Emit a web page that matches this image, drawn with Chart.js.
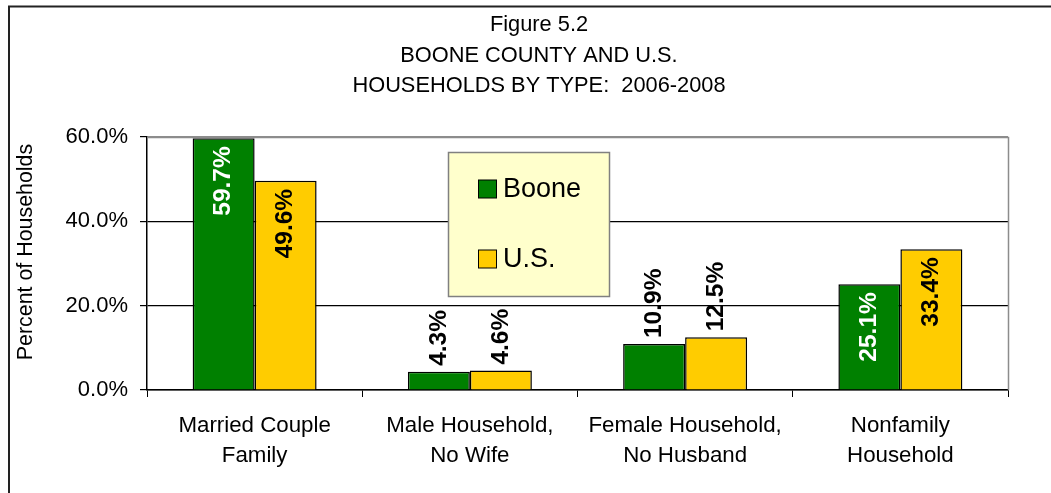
<!DOCTYPE html>
<html>
<head>
<meta charset="utf-8">
<script src="https://cdn.jsdelivr.net/npm/chart.js@4/dist/chart.umd.min.js"></script>
<style>
  html, body { margin: 0; padding: 0; background: #fff; }
  #wrap { width: 1051px; height: 493px; position: relative; }
</style>
</head>
<body>
<div id="wrap"><canvas id="c" width="1051" height="493"></canvas></div>
<script>
const categories = [
  ["Married Couple", "Family"],
  ["Male Household,", "No Wife"],
  ["Female Household,", "No Husband"],
  ["Nonfamily", "Household"]
];
const seriesNames = ["Boone", "U.S."];
const booneValues = [59.7, 4.3, 10.9, 25.1];
const usValues = [49.6, 4.6, 12.5, 33.4];
const yTickValues = [0, 20, 40, 60];
const titleLines = ["Figure 5.2", "BOONE COUNTY AND U.S.", "HOUSEHOLDS BY TYPE:  2006-2008"];
const yAxisTitle = "Percent of Households";

const FONT = "'Liberation Sans', Arial, sans-serif";
const GREEN = "#008000";
const YELLOW = "#FFCC00";

const framePlugin = {
  id: "frame",
  beforeDraw(chart) {
    const ctx = chart.ctx;
    ctx.save();
    ctx.fillStyle = "#fff";
    ctx.fillRect(0, 0, chart.width, chart.height);
    ctx.strokeStyle = "#222";
    ctx.lineWidth = 2;
    ctx.beginPath();
    ctx.moveTo(9, chart.height + 5);
    ctx.lineTo(9, 6.5);
    ctx.lineTo(chart.width + 5, 6.5);
    ctx.stroke();

    // title
    ctx.fillStyle = "#000";
    ctx.font = "21.8px " + FONT;
    ctx.textAlign = "center";
    ctx.textBaseline = "middle";
    const tcy = [25, 56, 86];
    titleLines.forEach((t, i) => ctx.fillText(t, 539, tcy[i]));

    // y axis title
    ctx.save();
    ctx.translate(26, 252);
    ctx.rotate(-Math.PI / 2);
    ctx.font = "21.4px " + FONT;
    ctx.fillText(yAxisTitle, 0, 0);
    ctx.restore();
    ctx.restore();
  },
  afterDatasetsDraw(chart) {
    const ctx = chart.ctx;
    const a = chart.chartArea;
    ctx.save();
    ctx.strokeStyle = "#8c8c8c";
    ctx.lineWidth = 1.5;
    ctx.beginPath();
    ctx.moveTo(a.left, a.top + 0.5);
    ctx.lineTo(a.right + 0.5, a.top + 0.5);
    ctx.lineTo(a.right + 0.5, a.bottom);
    ctx.stroke();

    chart.data.datasets.forEach((ds, di) => {
      const meta = chart.getDatasetMeta(di);
      meta.data.forEach((bar, i) => {
        const v = ds.data[i];
        const txt = v.toFixed(1) + "%";
        const inside = v >= 20;
        ctx.save();
        ctx.translate(bar.x, bar.y);
        ctx.rotate(-Math.PI / 2);
        ctx.font = "bold 24.5px " + FONT;
        ctx.textBaseline = "middle";
        if (inside) {
          ctx.textAlign = "right";
          ctx.fillStyle = di === 0 ? "#fff" : "#000";
          ctx.fillText(txt, -8, 0);
        } else {
          ctx.textAlign = "left";
          ctx.fillStyle = "#000";
          ctx.fillText(txt, 6, 0);
        }
        ctx.restore();
      });
    });

    const lx = 448.5, ly = 152.5, lw = 161, lh = 144;
    ctx.fillStyle = "#FFFFCC";
    ctx.fillRect(lx, ly, lw, lh);
    ctx.strokeStyle = "#808080";
    ctx.lineWidth = 1.5;
    ctx.strokeRect(lx, ly, lw, lh);
    const rows = [189, 259];
    chart.data.datasets.forEach((ds, di) => {
      const cy = rows[di];
      ctx.fillStyle = ds.backgroundColor;
      ctx.fillRect(478.5, cy - 9, 18, 18);
      ctx.strokeStyle = "#000";
      ctx.lineWidth = 1;
      ctx.strokeRect(478.5, cy - 9, 18, 18);
      ctx.fillStyle = "#000";
      ctx.font = "27px " + FONT;
      ctx.textAlign = "left";
      ctx.textBaseline = "middle";
      ctx.fillText(ds.label, 503, cy + 1);
    });
    ctx.restore();
  }
};

new Chart(document.getElementById("c"), {
  type: "bar",
  data: {
    labels: categories,
    datasets: [
      { label: seriesNames[0], data: booneValues, backgroundColor: GREEN, borderColor: "#000", borderWidth: 1.5 },
      { label: seriesNames[1], data: usValues, backgroundColor: YELLOW, borderColor: "#000", borderWidth: 1.5 }
    ]
  },
  options: {
    responsive: false,
    animation: false,
    datasets: { bar: { categoryPercentage: 0.576, barPercentage: 1.0 } },
    layout: { padding: { left: 10, right: 43, top: 137, bottom: 0 } },
    plugins: {
      legend: { display: false },
      tooltip: { enabled: false },
      title: { display: false }
    },
    scales: {
      x: {
        grid: { display: true, drawOnChartArea: false, drawTicks: true, tickLength: 7, offset: true, tickColor: "#000", color: "#000" },
        border: { display: true, color: "#000", width: 1.5 },
        ticks: { color: "#000", font: { family: FONT, size: 22.3, lineHeight: 1.38 }, padding: 13, maxRotation: 0, autoSkip: false },
        afterFit(scale) { scale.height = 103; }
      },
      y: {
        min: 0, max: 60,
        afterBuildTicks(scale) { scale.ticks = yTickValues.map(v => ({ value: v })); },
        grid: {
          color: (c) => (c.tick && c.tick.value === 60 ? "#8c8c8c" : "#000"),
          lineWidth: 1.2,
          tickLength: 7,
          tickColor: "#000",
          drawTicks: true
        },
        border: { display: true, color: "#000", width: 1.5 },
        ticks: {
          color: "#000",
          font: { family: FONT, size: 22 },
          padding: 12,
          callback: (v) => Number(v).toFixed(1) + "%"
        },
        afterFit(scale) { scale.width = 137; }
      }
    }
  },
  plugins: [framePlugin]
});
</script>
</body>
</html>
